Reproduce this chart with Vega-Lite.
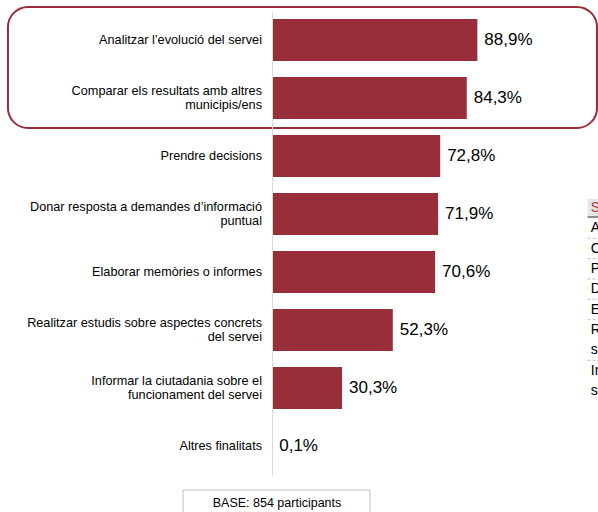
{
  "$schema": "https://vega.github.io/schema/vega-lite/v6.json",
  "width": 231,
  "height": 464,
  "autosize": {"type": "none"},
  "padding": {"left": 272, "top": 11, "right": 95, "bottom": 37},
  "config": {
    "font": "Liberation Sans",
    "view": {"stroke": null},
    "locale": {"number": {"decimal": ",", "thousands": ".", "grouping": [3], "currency": ["", " €"]}}
  },
  "datasets": {
    "main": [
      {"finalitat": "Analitzar l’evolució del servei", "pct": 0.889},
      {"finalitat": "Comparar els resultats amb altres\nmunicipis/ens", "pct": 0.843},
      {"finalitat": "Prendre decisions", "pct": 0.728},
      {"finalitat": "Donar resposta a demandes d’informació\npuntual", "pct": 0.719},
      {"finalitat": "Elaborar memòries o informes", "pct": 0.706},
      {"finalitat": "Realitzar estudis sobre aspectes concrets\ndel servei", "pct": 0.523},
      {"finalitat": "Informar la ciutadania sobre el\nfuncionament del servei", "pct": 0.303},
      {"finalitat": "Altres finalitats", "pct": 0.001}
    ],
    "table": [
      {"line": 0, "t": "S", "role": "head", "sep": "no"},
      {"line": 1, "t": "Analitzar", "role": "row", "sep": "yes"},
      {"line": 2, "t": "Comparar", "role": "row", "sep": "yes"},
      {"line": 3, "t": "Prendre", "role": "row", "sep": "yes"},
      {"line": 4, "t": "Donar", "role": "row", "sep": "yes"},
      {"line": 5, "t": "Elaborar", "role": "row", "sep": "yes"},
      {"line": 6, "t": "Realitzar", "role": "row", "sep": "no"},
      {"line": 7, "t": "sobre", "role": "row", "sep": "yes"},
      {"line": 8, "t": "Informar", "role": "row", "sep": "no"},
      {"line": 9, "t": "sobre", "role": "row", "sep": "no"}
    ],
    "note": [{"text": "BASE: 854 participants"}]
  },
  "layer": [
    {
      "data": {"name": "main"},
      "layer": [
        {
          "mark": {"type": "bar", "color": "#982E3A"},
          "encoding": {
            "y": {
              "field": "finalitat", "type": "nominal", "sort": null,
              "scale": {"paddingInner": 0.28, "paddingOuter": 0.14},
              "axis": {
                "title": null, "ticks": false, "grid": false, "labels": false,
                "domainColor": "#D9D9D9", "domainWidth": 1, "zindex": 1
              }
            },
            "x": {"field": "pct", "type": "quantitative", "scale": {"domain": [0, 1]}, "axis": null}
          }
        },
        {
          "mark": {
            "type": "text", "align": "right", "baseline": "middle", "dx": -10,
            "fontSize": 12.7, "color": "#000000", "lineBreak": "\n", "lineHeight": 14,
            "dy": {"expr": "indexof(datum.finalitat, '\\n') >= 0 ? -7 : 0"}
          },
          "encoding": {
            "y": {"field": "finalitat", "type": "nominal", "sort": null},
            "x": {"datum": 0, "type": "quantitative", "scale": {"domain": [0, 1]}},
            "text": {"field": "finalitat", "type": "nominal"}
          }
        },
        {
          "mark": {"type": "text", "align": "left", "baseline": "middle", "dx": 7, "fontSize": 17, "color": "#000000"},
          "encoding": {
            "y": {"field": "finalitat", "type": "nominal", "sort": null},
            "x": {"field": "pct", "type": "quantitative", "scale": {"domain": [0, 1]}},
            "text": {"field": "pct", "type": "quantitative", "format": ".1%"}
          }
        },
        {
          "data": {"values": [{}]},
          "mark": {"type": "rect", "fill": "transparent", "stroke": "#9B2D3A", "strokeWidth": 2, "cornerRadius": 20, "yOffset": -33, "y2Offset": -28},
          "encoding": {
            "x": {"datum": -1.143, "type": "quantitative", "scale": {"domain": [0, 1]}},
            "x2": {"datum": 1.407},
            "y": {"datum": "Analitzar l’evolució del servei", "type": "nominal"},
            "y2": {"datum": "Prendre decisions"}
          }
        },
        {
          "data": {"name": "note"},
          "mark": {"type": "rect", "fill": "#FFFFFF", "stroke": "#BFBFBF", "strokeWidth": 1, "yOffset": 44, "y2Offset": 80},
          "encoding": {
            "x": {"datum": -0.385, "type": "quantitative", "scale": {"domain": [0, 1]}},
            "x2": {"datum": 0.424},
            "y": {"datum": "Altres finalitats", "type": "nominal"},
            "y2": {"datum": "Altres finalitats"}
          }
        },
        {
          "data": {"name": "note"},
          "mark": {"type": "text", "align": "center", "baseline": "middle", "fontSize": 12.5, "color": "#000000", "yOffset": 57},
          "encoding": {
            "x": {"datum": 0.0216, "type": "quantitative", "scale": {"domain": [0, 1]}},
            "y": {"datum": "Altres finalitats", "type": "nominal"},
            "text": {"field": "text", "type": "nominal"}
          }
        }
      ]
    },
    {
      "data": {"name": "table"},
      "encoding": {
        "y": {"field": "line", "type": "ordinal", "scale": {"type": "point", "range": [197, 380], "padding": 0}, "axis": null}
      },
      "layer": [
        {
          "transform": [{"filter": "datum.role == 'head'"}],
          "mark": {"type": "bar", "color": "#E6E6E6", "height": 18},
          "encoding": {
            "x": {"datum": 1.366, "type": "quantitative", "scale": {"domain": [0, 1]}},
            "x2": {"datum": 1.5}
          }
        },
        {
          "transform": [{"filter": "datum.role == 'head'"}],
          "mark": {"type": "rule", "color": "#8C8C8C", "strokeWidth": 2, "yOffset": 9},
          "encoding": {
            "x": {"datum": 1.366, "type": "quantitative", "scale": {"domain": [0, 1]}},
            "x2": {"datum": 1.5}
          }
        },
        {
          "transform": [{"filter": "datum.sep == 'yes'"}],
          "mark": {"type": "rule", "color": "#BFBFBF", "strokeWidth": 1, "strokeDash": [3, 2], "yOffset": 10},
          "encoding": {
            "x": {"datum": 1.366, "type": "quantitative", "scale": {"domain": [0, 1]}},
            "x2": {"datum": 1.5}
          }
        },
        {
          "mark": {"type": "text", "align": "left", "baseline": "middle", "fontSize": 14},
          "encoding": {
            "x": {"datum": 1.38, "type": "quantitative", "scale": {"domain": [0, 1]}},
            "text": {"field": "t", "type": "nominal"},
            "color": {"field": "role", "type": "nominal", "scale": {"domain": ["head", "row"], "range": ["#B03A44", "#000000"]}, "legend": null}
          }
        }
      ]
    }
  ],
  "resolve": {"scale": {"y": "independent"}}
}
